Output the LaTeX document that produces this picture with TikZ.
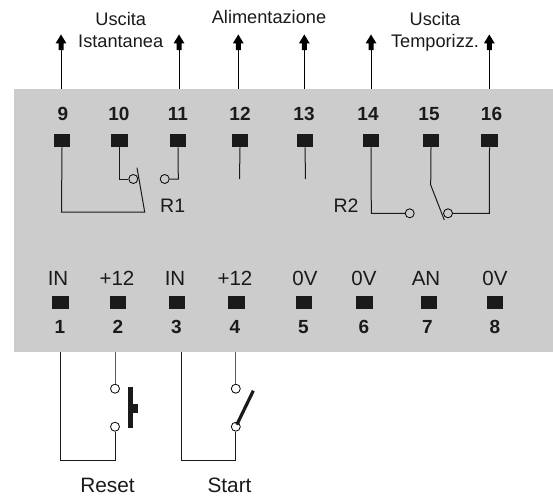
\documentclass[tikz,border=0pt]{standalone}
\usepackage{fontspec}
\setmainfont{Liberation Sans}
\definecolor{panel}{HTML}{CCCCCC}
\definecolor{term}{HTML}{1A1A1A}
\tikzset{
 x=1pt,y=-1pt,
 terminal/.style={fill=term,draw=none,minimum width=16.5pt,minimum height=13.5pt,inner sep=0pt},
 wire/.style={draw=black!90,line width=1pt},
 contact/.style={circle,draw=black,fill=none,line width=0.8pt,minimum size=9pt,inner sep=0pt},
 pin/.style={font=\bfseries\fontsize{19}{21}\selectfont,inner sep=0pt,text=term,anchor=base},
 lab/.style={font=\fontsize{19.5}{22}\selectfont,inner sep=0pt,text=term,anchor=base},
 small/.style={font=\fontsize{18.2}{20}\selectfont,inner sep=0pt,text=term,anchor=base},
 botlab/.style={font=\fontsize{20.5}{22}\selectfont,inner sep=0pt,text=term,anchor=base},
 arr/.style={line width=1pt},
 head/.style={fill=black,draw=none}
}
\newcommand{\uparr}[2]{%
 \coordinate (#1) at (#2,89);
 \draw[arr] (#1) -- (#2,46);
 \fill[head] (#2,34.5) -- (#2+5.5,43.5) -- (#2+2.5,43.5) -- (#2+2.5,50) -- (#2-2.5,50) -- (#2-2.5,43.5) -- (#2-5.5,43.5) -- cycle;}
\begin{document}
\begin{tikzpicture}
\useasboundingbox (0,0) rectangle (553,495);
\fill[panel] (14,89) rectangle (553,352);
% top terminals
\foreach \n/\x/\px/\t in {t9/62/63/9,t10/119.7/119/10,t11/178/178/11,t12/240/240/12,t13/305/304/13,t14/371/368/14,t15/431/429/15,t16/489.5/491.5/16}{
 \node[terminal] (\n) at (\x,140.5) {};
 \node[pin] at (\px,120.7) {\t};
}
% arrows
\uparr{a9}{61}
\uparr{a11}{179}
\uparr{a12}{238.3}
\uparr{a13}{304.3}
\uparr{a14}{371}
\uparr{a16}{489.3}
\node[small] at (120.7,26) {Uscita};
\node[small] at (120.7,47.3) {Istantanea};
\node[small] at (269,23.3) {Alimentazione};
\node[small] at (435,26) {Uscita};
\node[small] at (435,47.3) {Temporizz.};
% R1
\node[contact] (c10) at (133.3,179) {};
\node[contact] (c11) at (164.7,179) {};
\coordinate (j10) at (119.7,179);
\coordinate (j11) at (178.3,179);
\draw[wire] (t10.south) -- (j10) -- (c10);
\draw[wire] (t11.south) -- (j11) -- (c11);
\coordinate (b9) at (61.5,212);
\coordinate (s1a) at (144.7,212);
\coordinate (s1b) at (137,167.7);
\draw[wire] (t9.south) -- (b9) -- (s1a) -- (s1b);
\node[lab] at (172.7,212.7) {R1};
\coordinate (e12) at (239.5,179);
\coordinate (e13) at (305.5,179);
\draw[wire] (t12.south) -- (e12);
\draw[wire] (t13.south) -- (e13);
% R2
\node[contact] (c14) at (409.7,213.3) {};
\node[contact] (c16) at (448,213.3) {};
\coordinate (j14) at (371.3,213.3);
\coordinate (j16) at (489.3,213.3);
\draw[wire] (t14.south) -- (j14) -- (c14);
\draw[wire] (t16.south) -- (j16) -- (c16);
\coordinate (k15) at (430.7,185);
\coordinate (s2) at (444.3,220);
\draw[wire] (t15.south) -- (k15) -- (s2);
\node[lab] at (346,212.7) {R2};
% bottom terminals
\foreach \n/\x/\lx/\t/\b/\bx in {t1/60.5/58/IN/1/60,t2/118/117/+12/2/118,t3/177/175/IN/3/176.5,t4/236.5/235/+12/4/235,t5/304/305/0V/5/303.5,t6/364.5/364/0V/6/364,t7/429/426/AN/7/427.5,t8/495/495/0V/8/495}{
 \node[terminal] (\n) at (\x,302.7) {};
 \node[botlab] at (\lx,285.7) {\t};
 \node[pin] at (\bx,333.3) {\b};
}
% bottom circuits
\node[contact] (r1) at (115,388.7) {};
\node[contact] (r2) at (115,426.7) {};
\coordinate (rt) at (115,352);
\coordinate (lt1) at (60.5,352);
\coordinate (lb1) at (60.5,460);
\coordinate (rb1) at (115,460);
\draw[wire,draw=black!65] (rt) -- (r1);
\draw[wire] (r2) -- (rb1) -- (lb1) -- (lt1);
\fill[term] (128.3,387) rectangle (133.3,428);
\fill[term] (133.3,403.5) rectangle (137.7,413);
\node[contact] (s1) at (235.8,388.7) {};
\node[contact] (s2c) at (235.8,426.7) {};
\coordinate (st) at (235.8,352);
\coordinate (lt3) at (181.7,352);
\coordinate (lb3) at (181.7,460);
\coordinate (rb3) at (235.8,460);
\draw[wire,draw=black!65] (st) -- (s1);
\draw[wire] (s2c) -- (rb3) -- (lb3) -- (lt3);
\draw[term,line width=3.2pt] (s2c.center) ++(1,-2) -- (253.3,390.7);
\node[botlab,font=\fontsize{20.8}{23}\selectfont] at (107.5,492.5) {Reset};
\node[botlab,font=\fontsize{20.8}{23}\selectfont] at (229.5,492.5) {Start};
\end{tikzpicture}
\end{document}
